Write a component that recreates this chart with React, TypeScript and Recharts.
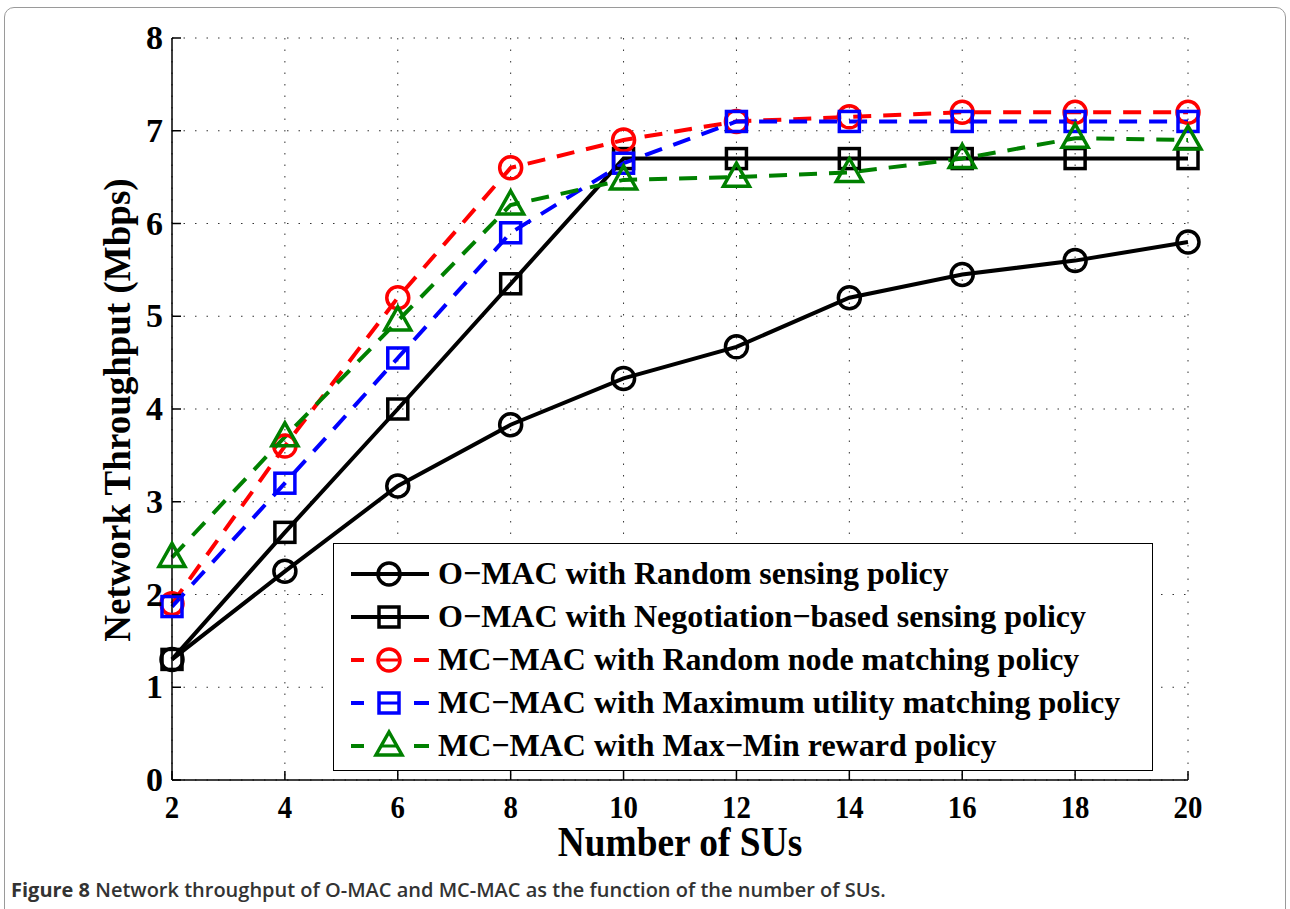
import React from 'react';
import { LineChart, Line, XAxis, YAxis, CartesianGrid, Legend } from 'recharts';

const users = [2, 4, 6, 8, 10, 12, 14, 16, 18, 20];
const omacRandom = [1.3, 2.25, 3.17, 3.83, 4.33, 4.67, 5.2, 5.45, 5.6, 5.8];
const omacNegotiation = [1.3, 2.67, 4.0, 5.35, 6.7, 6.7, 6.7, 6.7, 6.7, 6.7];
const mcmacRandom = [1.9, 3.6, 5.2, 6.6, 6.9, 7.1, 7.15, 7.2, 7.2, 7.2];
const mcmacMaxUtility = [1.87, 3.2, 4.55, 5.9, 6.65, 7.1, 7.1, 7.1, 7.1, 7.1];
const mcmacMaxMin = [2.4, 3.7, 4.95, 6.2, 6.47, 6.5, 6.55, 6.7, 6.92, 6.9];
const xTicks = [2, 4, 6, 8, 10, 12, 14, 16, 18, 20];
const yTicks = [0, 1, 2, 3, 4, 5, 6, 7, 8];

const data = users.map((n, i) => ({
  n,
  omacRandom: omacRandom[i],
  omacNegotiation: omacNegotiation[i],
  mcmacRandom: mcmacRandom[i],
  mcmacMaxUtility: mcmacMaxUtility[i],
  mcmacMaxMin: mcmacMaxMin[i],
}));

const serif = '"Liberation Serif", "Times New Roman", serif';

type MarkerKind = 'circle' | 'square' | 'triangle';

const Marker = ({ kind, cx, cy, color }: { kind: MarkerKind; cx: number; cy: number; color: string }) => {
  if (kind === 'circle') {
    return <circle cx={cx} cy={cy} r={11} fill="none" stroke={color} strokeWidth={3.5} />;
  }
  if (kind === 'square') {
    return <rect x={cx - 10} y={cy - 10} width={20} height={20} fill="none" stroke={color} strokeWidth={3.5} />;
  }
  return (
    <polygon
      points={`${cx},${cy - 14} ${cx - 13},${cy + 9} ${cx + 13},${cy + 9}`}
      fill="none"
      stroke={color}
      strokeWidth={3.5}
    />
  );
};

const series = [
  { key: 'omacRandom', name: 'O\u2212MAC with Random sensing policy', color: '#000000', dash: undefined, marker: 'circle' as MarkerKind },
  { key: 'omacNegotiation', name: 'O\u2212MAC with Negotiation\u2212based sensing policy', color: '#000000', dash: undefined, marker: 'square' as MarkerKind },
  { key: 'mcmacRandom', name: 'MC\u2212MAC with Random node matching policy', color: '#ff0000', dash: '18 12', marker: 'circle' as MarkerKind },
  { key: 'mcmacMaxUtility', name: 'MC\u2212MAC with Maximum utility matching policy', color: '#0000ff', dash: '18 12', marker: 'square' as MarkerKind },
  { key: 'mcmacMaxMin', name: 'MC\u2212MAC with Max\u2212Min reward policy', color: '#008000', dash: '18 12', marker: 'triangle' as MarkerKind },
];

const BottomTick = (props: any) => {
  const { x, y, payload } = props;
  return (
    <g>
      <line x1={x} y1={y} x2={x} y2={y - 9} stroke="#000" strokeWidth={1.5} />
      <text
        transform={`translate(${x},${y + 38}) scale(0.9,1)`}
        textAnchor="middle"
        fontFamily={serif}
        fontWeight="bold"
        fontSize={32}
        fill="#000"
      >
        {payload.value}
      </text>
    </g>
  );
};

const TopTick = (props: any) => {
  const { x, y } = props;
  return <line x1={x} y1={y} x2={x} y2={y + 9} stroke="#000" strokeWidth={1.5} />;
};

const LeftTick = (props: any) => {
  const { x, y, payload } = props;
  return (
    <g>
      <line x1={x} y1={y} x2={x + 9} y2={y} stroke="#000" strokeWidth={1.5} />
      <text x={x - 9} y={y + 11} textAnchor="end" fontFamily={serif} fontWeight="bold" fontSize={34} fill="#000">
        {payload.value}
      </text>
    </g>
  );
};

const RightTick = (props: any) => {
  const { x, y } = props;
  return <line x1={x} y1={y} x2={x - 9} y2={y} stroke="#000" strokeWidth={1.5} />;
};

const LegendBox = () => (
  <div
    style={{
      border: '1.5px solid #000',
      background: '#fff',
      width: 820,
      height: 228,
      boxSizing: 'border-box',
      paddingTop: 8,
      textAlign: 'left',
    }}
  >
    {series.map((s) => (
      <div key={s.key} style={{ display: 'flex', alignItems: 'center', height: 43 }}>
        <svg width={104} height={43} style={{ flex: 'none' }}>
          {s.dash ? (
            <g>
              <line x1={17} y1={22} x2={30} y2={22} stroke={s.color} strokeWidth={4} />
              <line x1={80} y1={22} x2={95} y2={22} stroke={s.color} strokeWidth={4} />
            </g>
          ) : (
            <line x1={17} y1={22} x2={95} y2={22} stroke={s.color} strokeWidth={4} />
          )}
          <Marker kind={s.marker} cx={55} cy={22} color={s.color} />
          {s.dash ? <line x1={46} y1={22} x2={64} y2={22} stroke={s.color} strokeWidth={3} /> : null}
        </svg>
        <span style={{ fontFamily: serif, fontWeight: 'bold', fontSize: 32, color: '#000', whiteSpace: 'nowrap' }}>
          {s.name}
        </span>
      </div>
    ))}
  </div>
);

const App = () => {
  return (
    <div style={{ position: 'absolute', left: 0, top: 0, width: 1290, height: 909, background: '#fff', overflow: 'hidden' }}>
      <div
        style={{
          position: 'absolute',
          left: 4,
          top: 7,
          width: 1280,
          height: 920,
          border: '1.5px solid #9a9a9a',
          borderRadius: 10,
        }}
      />
      <div style={{ position: 'absolute', left: 0, top: 0 }}>
        <LineChart width={1290} height={909} data={data} margin={{ top: 38, right: 102, left: 0, bottom: 49 }}>
          <CartesianGrid stroke="#333" strokeDasharray="1.5 10" strokeWidth={1} />
          <XAxis
            dataKey="n"
            type="number"
            domain={[2, 20]}
            ticks={xTicks}
            tickSize={0}
            tickMargin={0}
            tickLine={false}
            tick={<BottomTick />}
            height={80}
            stroke="#000"
            strokeWidth={1.5}
            interval={0}
          />
          <XAxis
            xAxisId="top"
            dataKey="n"
            type="number"
            orientation="top"
            domain={[2, 20]}
            ticks={xTicks}
            tickSize={0}
            tickMargin={0}
            tickLine={false}
            tick={<TopTick />}
            height={0}
            stroke="#000"
            strokeWidth={1.5}
            interval={0}
          />
          <YAxis
            type="number"
            domain={[0, 8]}
            ticks={yTicks}
            tickSize={0}
            tickMargin={0}
            tickLine={false}
            tick={<LeftTick />}
            width={172}
            stroke="#000"
            strokeWidth={1.5}
            interval={0}
          />
          <YAxis
            yAxisId="right"
            type="number"
            orientation="right"
            domain={[0, 8]}
            ticks={yTicks}
            tickSize={0}
            tickMargin={0}
            tickLine={false}
            tick={<RightTick />}
            width={0}
            stroke="#000"
            strokeWidth={1.5}
            interval={0}
          />
          {series.map((s) => (
            <Line
              key={s.key}
              type="linear"
              dataKey={s.key}
              name={s.name}
              stroke={s.color}
              strokeWidth={4}
              strokeDasharray={s.dash}
              isAnimationActive={false}
              dot={(p: any) => <Marker key={`${s.key}-${p.index}`} kind={s.marker} cx={p.cx} cy={p.cy} color={s.color} />}
              activeDot={false}
            />
          ))}
          <Legend
            layout="horizontal"
            verticalAlign="middle"
            align="center"
            content={<LegendBox />}
            wrapperStyle={{ position: 'absolute', left: 333, top: 543, width: 820, height: 228 }}
          />
        </LineChart>
        <div
          style={{
            position: 'absolute',
            left: 680,
            top: 842,
            transform: 'translate(-50%, -50%) scaleX(0.89)',
            fontFamily: serif,
            fontWeight: 'bold',
            fontSize: 42,
            whiteSpace: 'nowrap',
          }}
        >
          Number of SUs
        </div>
        <div
          style={{
            position: 'absolute',
            left: 117,
            top: 410,
            transform: 'translate(-50%, -50%) rotate(-90deg)',
            fontFamily: serif,
            fontWeight: 'bold',
            fontSize: 37,
            whiteSpace: 'nowrap',
          }}
        >
          Network Throughput (Mbps)
        </div>
        <div
          style={{
            position: 'absolute',
            left: 11,
            top: 876,
            fontFamily: '"Open Sans", sans-serif',
            fontWeight: 600,
            fontSize: 20,
            color: '#333',
            whiteSpace: 'nowrap',
            letterSpacing: 0,
          }}
        >
          <span style={{ fontWeight: 700 }}>Figure 8</span> Network throughput of O-MAC and MC-MAC as the function of the number of SUs.
        </div>
      </div>
    </div>
  );
};

export default App;
